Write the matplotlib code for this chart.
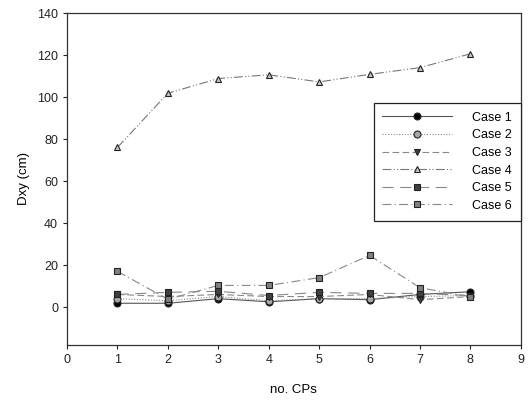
import matplotlib
matplotlib.use('Agg')
import matplotlib.pyplot as plt

plt.rcParams['font.family'] = ['Liberation Sans', 'DejaVu Sans']

cps = [1, 2, 3, 4, 5, 6, 7, 8]
case1 = [1.8, 1.8, 4.0, 2.5, 4.0, 3.5, 6.0, 7.3]
case2 = [4.0, 3.0, 5.0, 3.0, 4.0, 4.0, 5.0, 5.5]
case3 = [6.0, 5.0, 6.0, 5.0, 5.0, 6.0, 3.5, 5.0]
case4 = [76.0, 101.8, 108.8, 110.6, 107.2, 110.8, 114.0, 120.6]
case5 = [6.0, 7.0, 7.5, 5.5, 7.0, 6.5, 6.5, 5.5]
case6 = [17.0, 3.7, 10.3, 10.3, 14.0, 24.6, 9.2, 4.9]
labels = ["Case 1", "Case 2", "Case 3", "Case 4", "Case 5", "Case 6"]

series = [case1, case2, case3, case4, case5, case6]
styles = [
    dict(ls='-', marker='o', mfc='black', color='#555555'),
    dict(ls=(0, (1, 1.5)), marker='o', mfc='#a8a8a8', color='#888888'),
    dict(ls=(0, (6, 3)), marker='v', mfc='#404040', color='#888888'),
    dict(ls=(0, (8, 2, 1, 2, 1, 2)), marker='^', mfc='#c8c8c8', color='#777777'),
    dict(ls=(0, (10, 6)), marker='s', mfc='#404040', color='#888888'),
    dict(ls=(0, (8, 3, 1, 3)), marker='s', mfc='#808080', color='#888888'),
]

fig = plt.figure(figsize=(5.32, 4.01), dpi=100)
ax = fig.add_axes([0.126, 0.14, 0.853, 0.8275])

for vals, lab, st in zip(series, labels, styles):
    ax.plot(cps, vals, label=lab, lw=0.8, ms=5, mec='#222222', mew=0.8, **st)

ax.set_xlim(0, 9)
ax.set_ylim(-18, 140)
ax.set_xticks(range(0, 10))
ax.set_yticks(range(0, 141, 20))
ax.tick_params(direction='out', length=3, width=0.8, labelsize=9, colors='#222222')
ax.tick_params(top=False, right=False)
for sp in ax.spines.values():
    sp.set_linewidth(0.9)
    sp.set_color('#333333')

ax.set_xlabel("no. CPs", fontsize=9.5, labelpad=13)
ax.set_ylabel("Dxy (cm)", fontsize=9.5, labelpad=5)

leg = ax.legend(loc='upper right', bbox_to_anchor=(1.0, 0.729), borderaxespad=0,
                fontsize=9, handlelength=5.6, numpoints=1, labelspacing=0.45,
                handletextpad=1.6, fancybox=False, framealpha=1, borderpad=0.7)
leg.get_frame().set_edgecolor('#222222')
leg.get_frame().set_linewidth(0.9)

fig.savefig("out.png", dpi=100)
